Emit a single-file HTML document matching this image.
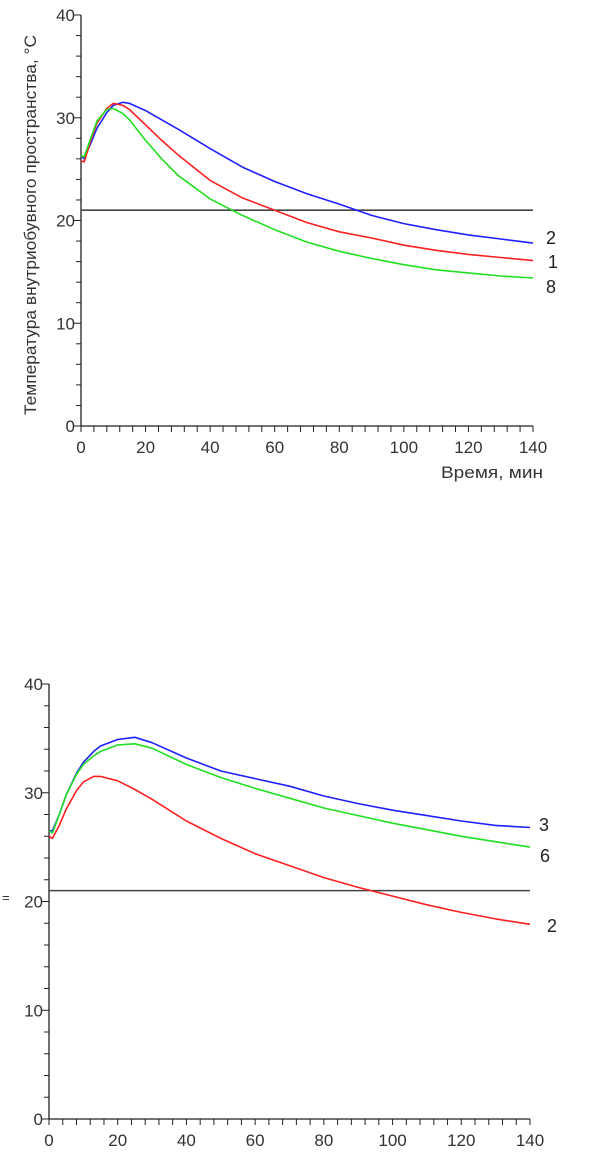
<!DOCTYPE html>
<html><head><meta charset="utf-8"><style>
body{margin:0;background:#fff;}
svg{display:block;font-family:"Liberation Sans","DejaVu Sans",sans-serif;}
</style></head><body>
<svg id="svg" width="601" height="1171" viewBox="0 0 601 1171"></svg>
<script>
// Top chart data
const timeA = [0,1,3,5,8,10,13,15,20,25,30,40,50,60,70,80,90,100,110,120,130,140];
const topSeries2 = [26.3,26,27.5,29,30.5,31.2,31.5,31.4,30.7,29.8,28.9,27,25.2,23.8,22.6,21.6,20.5,19.7,19.1,18.6,18.2,17.8];
const topSeries1 = [25.8,25.7,27.8,29.5,30.9,31.4,31.2,30.8,29.3,27.8,26.4,23.9,22.2,21,19.8,18.9,18.3,17.6,17.1,16.7,16.4,16.1];
const topSeries8 = [26.3,26.2,28,29.7,30.8,30.9,30.4,29.8,27.8,26,24.4,22.1,20.5,19.1,17.9,17,16.3,15.7,15.2,14.9,14.6,14.4];
// Bottom chart data
const botSeries3 = [26.5,26.5,28,29.8,31.8,32.8,33.8,34.3,34.9,35.1,34.6,33.2,32,31.3,30.6,29.7,29,28.4,27.9,27.4,27,26.8];
const botSeries6 = [26.5,26.3,28,29.8,31.7,32.6,33.4,33.8,34.4,34.5,34.1,32.6,31.4,30.4,29.5,28.6,27.9,27.2,26.6,26,25.5,25];
const botSeries2 = [26,25.8,27,28.5,30.2,31,31.5,31.5,31.1,30.3,29.4,27.4,25.8,24.4,23.3,22.2,21.3,20.5,19.7,19,18.4,17.9];
const thresholdValue = [21];
const xTickLabels = [0,20,40,60,80,100,120,140];
const yTickLabels = [0,10,20,30,40];

const NS="http://www.w3.org/2000/svg";
const svg=document.getElementById('svg');
function mk(tag,attrs,parent){const e=document.createElementNS(NS,tag);for(const k in attrs)e.setAttribute(k,attrs[k]);(parent||svg).appendChild(e);return e;}

function chart(cfg){
  const g=mk('g',{});
  
  
  const xs=v=>cfg.x0+(v/140)*(cfg.x1-cfg.x0);
  const ys=v=>cfg.y0-(v/40)*(cfg.y0-cfg.y1);
  const ax=mk('path',{d:`M${cfg.x0} ${cfg.y1} V${cfg.y0} H${xs(140)}`,stroke:'#222','stroke-width':1.3,fill:'none'},g);
  
  
  for(let v=0;v<=40;v+=2){
    const len=v%10===0?7:5;
    mk('line',{x1:cfg.x0-len,x2:cfg.x0,y1:ys(v),y2:ys(v),stroke:'#222','stroke-width':1},g);
  }
  for(let v=0;v<=140;v+=4){
    mk('line',{x1:xs(v),x2:xs(v),y1:cfg.y0,y2:cfg.y0+6,stroke:'#222','stroke-width':1},g);
  }
  mk('line',{x1:xs(140),x2:xs(140),y1:cfg.y0,y2:cfg.y0+6,stroke:'#222','stroke-width':1},g);
  yTickLabels.forEach(v=>{
    const t=mk('text',{x:cfg.x0-6,y:ys(v)+6,'text-anchor':'end','font-size':17,fill:'#333'},g);
    t.textContent=v;
    
    
  });
  xTickLabels.forEach(v=>{
    const t=mk('text',{x:xs(v),y:cfg.y0+27,'text-anchor':'middle','font-size':17,fill:'#333'},g);
    t.textContent=v;
    
    
  });
  const th=mk('line',{x1:cfg.x0,x2:xs(140),y1:ys(thresholdValue[0]),y2:ys(thresholdValue[0]),stroke:'#444','stroke-width':1.6},g);
  
  
  cfg.series.forEach(s=>{
    const d=timeA.map((t,i)=>(i?'L':'M')+xs(t).toFixed(1)+' '+ys(s.data[i]).toFixed(1)).join(' ');
    const p=mk('path',{d:d,stroke:s.color,'stroke-width':1.6,fill:'none','stroke-linejoin':'round'},g);
    
    
    const t=mk('text',{x:s.lx,y:s.ly,'font-size':18,fill:'#222'},g);
    t.textContent=s.label;
    
    
  });
  return g;
}

chart({name:'top-chart',x0:81,x1:533,y0:426,y1:15,series:[
  {data:topSeries2,color:'#2020ff',label:'2',lx:546,ly:244},
  {data:topSeries1,color:'#ff2020',label:'1',lx:548,ly:268},
  {data:topSeries8,color:'#20e020',label:'8',lx:546,ly:293}
]});
chart({name:'bottom-chart',x0:49,x1:530,y0:1119,y1:684,series:[
  {data:botSeries3,color:'#2020ff',label:'3',lx:539,ly:831},
  {data:botSeries6,color:'#20e020',label:'6',lx:540,ly:862},
  {data:botSeries2,color:'#ff2020',label:'2',lx:547,ly:932}
]});

const yt=mk('text',{x:0,y:0,transform:'translate(36,225) rotate(-90)','text-anchor':'middle','font-size':17,fill:'#333',textLength:380,lengthAdjust:'spacingAndGlyphs'});
yt.textContent='Температура внутриобувного пространства, °С';


const xt=mk('text',{x:543,y:478,'text-anchor':'end','font-size':17,fill:'#333',textLength:102,lengthAdjust:'spacingAndGlyphs'});
xt.textContent='Время, мин';


const eq=mk('text',{x:2,y:902,'font-size':13,fill:'#333'});
eq.textContent='=';


</script>
</body></html>
